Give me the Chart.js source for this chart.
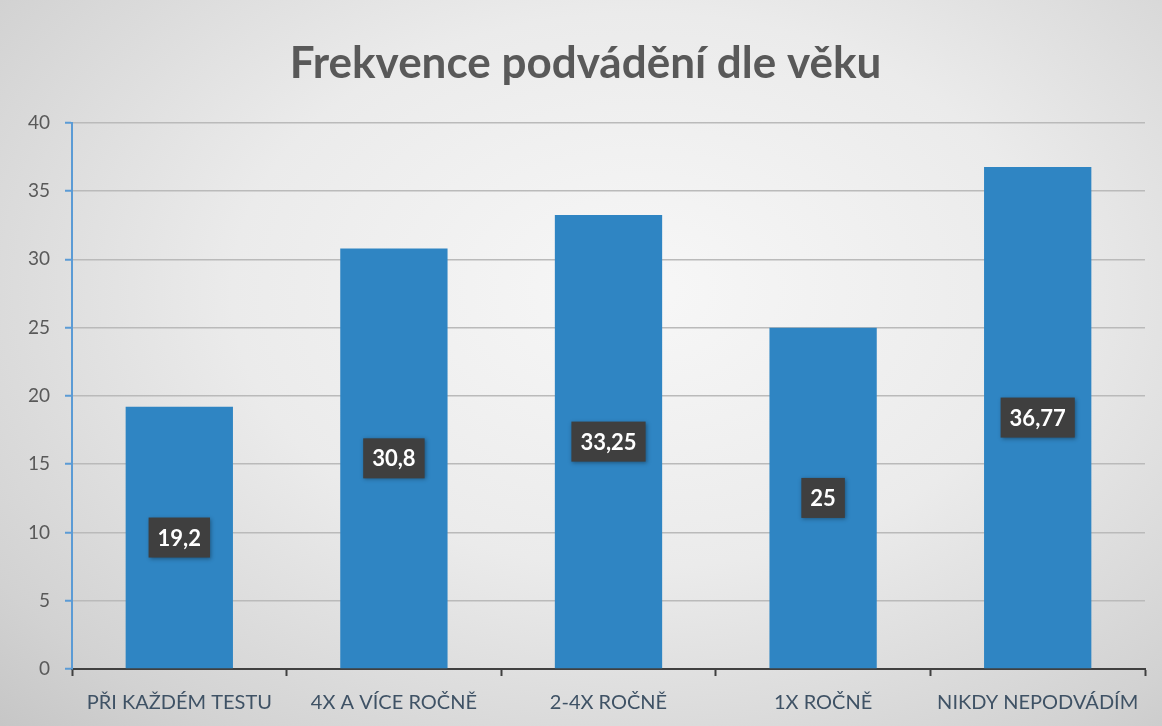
<!DOCTYPE html>
<html>
<head>
<meta charset="utf-8">
<script src="https://cdn.jsdelivr.net/npm/chart.js@4"></script>
<style>
  html, body { margin: 0; padding: 0; }
  body {
    width: 1162px; height: 726px; overflow: hidden;
    background: radial-gradient(ellipse at 55% 40%, #f7f7f7 0%, #ebebeb 45%, #d2d2d2 85%, #c6c6c6 100%);
  }
  canvas { display: block; }
</style>
</head>
<body>
<canvas id="chart_cheating" width="1162" height="726"></canvas>
<script>
// frekvence podvadeni
var categories = ['PŘI KAŽDÉM TESTU', '4X A VÍCE ROČNĚ', '2-4X ROČNĚ', '1X ROČNĚ', 'NIKDY NEPODVÁDÍM'];
var values = [19.2, 30.8, 33.25, 25, 36.77];
var valueLabels = ['19,2', '30,8', '33,25', '25', '36,77'];
var yTicks = [0, 5, 10, 15, 20, 25, 30, 35, 40];

document.addEventListener("DOMContentLoaded", function() {
    var ctx = document.getElementById('chart_cheating').getContext('2d');

    // popisky hodnot v tmavych ramecich uprostred sloupcu
    var valueBoxes = {
        id: 'valueBoxes',
        afterDatasetsDraw: function(chart) {
            var meta = chart.getDatasetMeta(0);
            var c = chart.ctx;
            c.save();
            c.font = 'bold 22px Lato';
            c.textAlign = 'center';
            c.textBaseline = 'middle';
            meta.data.forEach(function(bar, i) {
                var text = valueLabels[i];
                var cy = (bar.y + bar.base) / 2;
                var w = c.measureText(text).width + 18;
                var h = 40;
                c.shadowColor = 'rgba(0,0,0,0.35)';
                c.shadowBlur = 4;
                c.shadowOffsetX = 1;
                c.shadowOffsetY = 1;
                c.fillStyle = '#3f3f3f';
                c.fillRect(bar.x - w / 2, cy - h / 2, w, h);
                c.shadowColor = 'transparent';
                c.fillStyle = '#ffffff';
                c.fillText(text, bar.x, cy + 1);
            });
            c.restore();
        }
    };

    new Chart(ctx, {
        type: 'bar',
        data: {
            labels: categories,
            datasets: [{
                data: values,
                backgroundColor: '#2f85c3',
                barPercentage: 0.5,
                categoryPercentage: 1.0
            }]
        },
        options: {
            responsive: false,
            animation: false,
            // levy okraj posouva nadpis doprava jako v originalu
            layout: { padding: { left: 26, right: 17, top: 0, bottom: 0 } },
            plugins: {
                legend: { display: false },
                tooltip: { enabled: false },
                title: {
                    display: true,
                    text: 'Frekvence podvádění dle věku',
                    color: '#595959',
                    font: { family: 'Lato', size: 44, weight: 'bold', lineHeight: 1.2 },
                    padding: { top: 37, bottom: 33 }
                }
            },
            scales: {
                x: {
                    grid: {
                        offset: true,
                        drawOnChartArea: false,
                        tickColor: '#404040',
                        tickLength: 7,
                        tickWidth: 2
                    },
                    border: { color: '#404040', width: 2 },
                    ticks: {
                        color: '#3f5265',
                        font: { family: 'Lato', size: 20 },
                        padding: 15,
                        maxRotation: 0
                    },
                    afterFit: function(scale) { scale.height = 57; }
                },
                y: {
                    min: 0,
                    max: 40,
                    afterBuildTicks: function(scale) {
                        scale.ticks = yTicks.map(function(v) { return { value: v }; });
                    },
                    grid: {
                        color: '#bababa',
                        lineWidth: 1.5,
                        tickColor: '#5b9bd5',
                        tickLength: 7,
                        tickWidth: 2
                    },
                    border: { color: '#5b9bd5', width: 2 },
                    ticks: {
                        color: '#595959',
                        font: { family: 'Lato', size: 19 },
                        padding: 15
                    },
                    afterFit: function(scale) { scale.width = 46; }
                }
            }
        },
        plugins: [valueBoxes]
    });
});
</script>
</body>
</html>
